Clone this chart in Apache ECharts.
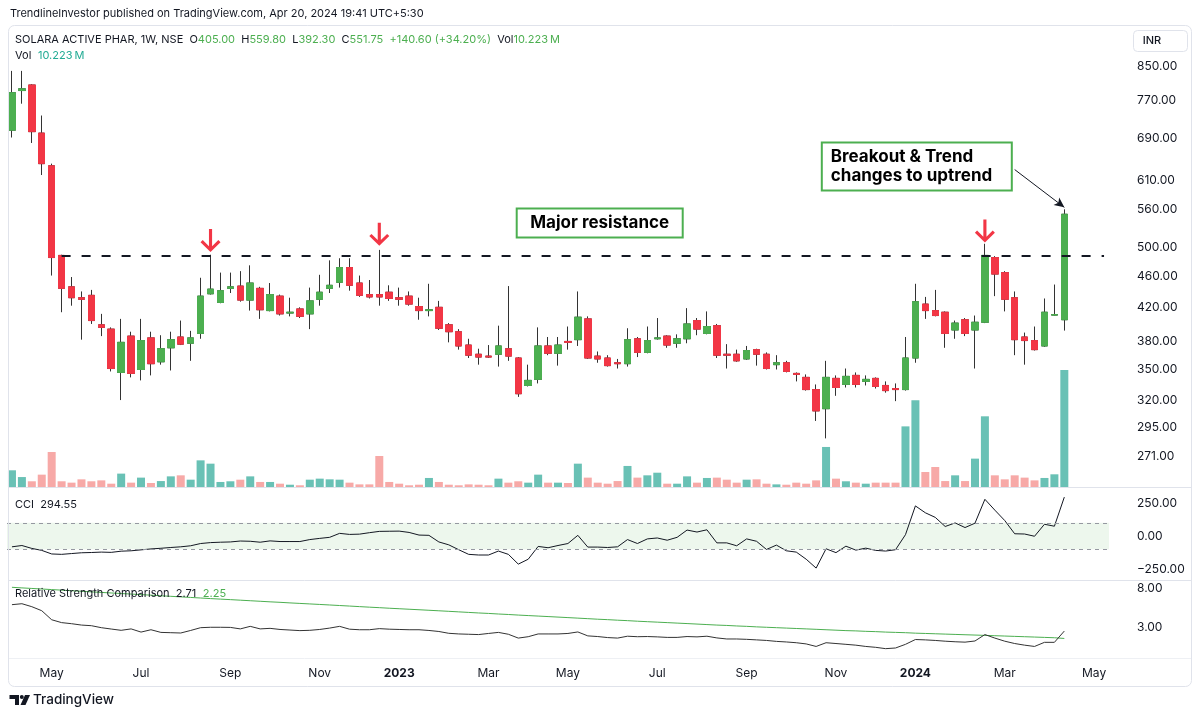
<!DOCTYPE html>
<html><head><meta charset="utf-8">
<script src="https://cdn.jsdelivr.net/npm/echarts@6/dist/echarts.min.js"></script>
<style>html,body{margin:0;padding:0;background:#fff}#c{width:1200px;height:716px}</style>
</head><body><div id="c"></div>
<script>
// ---------- data (weekly, SOLARA ACTIVE PHAR, NSE) ----------
const START_WEEK = '2022-04-04';
const FUTURE_SLOTS = 4;
const open = [706,793,806,700,636,489,446,432,435,399,394,347,386,350,384,358,373,385,378,389,437,426,444,447,429,444,416,434,413,418,412,430,444,452,472,451,436,436,439,432,434,421,416,420,399,391,376,366,364,366,372,362,334,340,375,367,380,382,406,364,362,357,356,383,368,383,386,378,383,404,389,398,366,366,361,371,366,355,357,346,342,330,312,341,335,344,338,341,334,331,330,362,424,416,414,393,405,393,402,486,465,432,385,381,375,410.5,405];
const high = [840,840,808,737,640,490,459,440,442,412,396,406,391,406,391,387,391,404,392,458,490,465,465,467,475,446,451,436,432,420,445,462,482,485,485,461,455,497,448,445,440,432,450,428,401,394,383,372,376,398,447,363,355,396,385,385,397,440,409,369,365,361,395,385,397,407,387,388,419,407,415,400,377,371,375,372,368,365,359,347,345,335,359,344,351,347,344,342,338,336,385,450,433,442,415,404,407,410,506,488,467,440,390,397,431,449,559.8];
const low = [691,763,680,619,461,414,422,382,400,386,348,320,342,339,344,355,349,376,359,383,436,425,438,427,416,406,415,410,409,407,394,422,438,445,441,433,431,422,428,422,422,405,409,393,379,371,362,355,362,353,359,323,333,336,365,354,371,375,361,357,353,351,353,363,367,382,373,373,378,387,388,362,351,358,360,354,350,350,347,338,329,301,286,324,332,332,334,331,327,319,329,357,406,409,373,383,386,351,401,434,415,365,355,370,374,410,392.3];
const close = [788,797,703,640,486,444,432,430,404,396,351,379,346,381,356,372,382,377,384,434,443,441,446,429,451,417,436,412,414,409,428,439,448,472,448,435,433,433,431,430,424,416,417,395,391,375,365,363,363,375,364,326,339,375,367,376,379,408,362,361,354,356,382,368,381,384,376,383,400,394,397,365,365,359,370,366,351,357,348,345,330,310,342,332,343,335,340,333,329,330,362,427,416,410,389,401,389,402,489,463,430,382,381,371,414,411.15,551.75];
const volumeM = [1.46,0.87,0.50,1.08,3.06,0.50,0.38,0.67,0.50,0.58,0.29,1.17,0.38,0.82,0.35,0.52,0.93,1.02,0.64,2.33,2.04,0.44,0.50,0.64,0.93,0.44,0.44,0.29,0.20,0.15,0.64,0.73,0.67,0.64,0.38,0.23,0.23,2.71,0.44,0.29,0.15,0.20,0.79,0.44,0.20,0.15,0.23,0.20,0.15,0.73,0.38,0.50,0.38,1.08,0.38,0.38,0.35,2.04,0.82,0.38,0.29,0.52,1.84,0.82,1.02,1.25,0.29,0.29,0.93,0.38,0.79,0.82,0.64,0.38,0.64,0.67,0.29,0.23,0.20,0.38,0.29,0.58,3.50,0.73,0.50,0.38,0.29,0.38,0.38,0.38,5.30,7.58,1.31,1.75,0.52,1.02,0.52,2.48,6.18,1.02,0.67,1.02,0.82,0.58,0.79,1.11,10.223];
const cci = [-82,-72,-94,-109,-136,-139,-133,-127,-125,-122,-124,-115,-112,-105,-98,-93,-87,-82,-74,-57,-50,-47,-45,-38,-40,-47,-37,-42,-42,-42,-27,-18,-10,20,12,14,25,35,36,37,27,7,5,-45,-67,-104,-139,-144,-144,-114,-139,-213,-176,-79,-89,-72,-57,5,-84,-84,-87,-82,-27,-57,-22,-15,-32,-10,45,30,47,-52,-52,-74,-22,-40,-102,-69,-112,-122,-176,-243,-97,-126,-77,-107,-92,-109,-114,-104,10,228,176,141,72,99,64,97,278,196,117,17,15,-2,89,74,294.55];
const rsc = [5.26,5.39,5.0,4.52,3.60,3.35,3.26,3.15,3.10,2.95,2.85,2.76,2.86,2.64,2.80,2.62,2.60,2.58,2.75,2.95,2.98,2.98,2.97,2.86,3.05,2.86,2.90,2.82,2.78,2.74,2.76,2.82,2.92,3.05,2.84,2.80,2.80,2.88,2.84,2.82,2.80,2.80,2.75,2.68,2.56,2.52,2.50,2.48,2.55,2.62,2.50,2.27,2.35,2.52,2.52,2.52,2.55,2.65,2.40,2.36,2.30,2.27,2.38,2.35,2.36,2.34,2.31,2.31,2.36,2.34,2.38,2.28,2.22,2.22,2.20,2.17,2.14,2.09,2.06,2.02,1.96,1.84,2.02,1.98,1.94,1.90,1.84,1.80,1.74,1.77,1.94,2.19,2.17,2.14,2.10,2.07,2.05,2.11,2.48,2.27,2.10,1.98,1.90,1.84,2.04,2.04,2.71];
const rscAvg = [8.14,8.02,7.91,7.80,7.69,7.58,7.47,7.37,7.26,7.16,7.06,6.96,6.87,6.77,6.68,6.58,6.49,6.40,6.31,6.22,6.13,6.05,5.97,5.89,5.81,5.73,5.65,5.58,5.50,5.43,5.36,5.29,5.22,5.15,5.08,5.01,4.94,4.88,4.81,4.75,4.69,4.63,4.57,4.51,4.45,4.39,4.33,4.27,4.22,4.16,4.11,4.05,4.00,3.95,3.90,3.85,3.80,3.75,3.70,3.65,3.61,3.56,3.52,3.47,3.43,3.39,3.35,3.31,3.27,3.23,3.19,3.15,3.12,3.08,3.05,3.01,2.98,2.95,2.92,2.89,2.86,2.83,2.80,2.77,2.74,2.72,2.69,2.67,2.64,2.62,2.60,2.57,2.55,2.53,2.51,2.49,2.47,2.45,2.43,2.41,2.39,2.37,2.35,2.33,2.31,2.29,2.25];
const priceTicks = [850,770,690,610,560,500,460,420,380,350,320,295,271];
const cciTicks = [250,0,-250];
const rscTicks = [8,3];
const resistance = 488;
const arrowMarks = [[20,494],[37,503],[98,508]]; // [bar index, price]

// ---------- helpers ----------
const FONT = 'Inter, "Noto Sans", sans-serif';
const TXT = '#131722';
const UP = '#4caf50', DOWN = '#f23645';
const ln = Math.log;
const cats = [];
{
  const t0 = Date.parse(START_WEEK + 'T00:00:00Z');
  for (let i = 0; i < close.length + FUTURE_SLOTS; i++) cats.push(new Date(t0 + i * 7 * 86400000).toISOString().slice(0, 10));
}
const MON = ['Jan','Feb','Mar','Apr','May','Jun','Jul','Aug','Sep','Oct','Nov','Dec'];
function timeLabel(i) {
  if (i === 0) return null;
  const m = +cats[i].slice(5, 7) - 1, pm = +cats[i - 1].slice(5, 7) - 1;
  if (m === pm || m % 2 !== 0) return null;
  return m === 0 ? '{b|' + cats[i].slice(0, 4) + '}' : MON[m];
}
const wick = open.map((o, i) => [ln(o), ln(close[i]), ln(low[i]), ln(high[i])]);
const body = open.map((o, i) => [ln(o), ln(close[i]), ln(Math.min(o, close[i])), ln(Math.max(o, close[i]))]);
const volData = volumeM.map((v, i) => ({ value: v, itemStyle: { color: close[i] >= open[i] ? 'rgb(105,193,181)' : 'rgb(247,169,167)' } }));

const arrowPath = 'path://M8.5,0 L11.5,0 L11.5,17 L17.5,11 L19.6,13.1 L10,22.7 L0.4,13.1 L2.5,11 L8.5,17 Z';

const chart = echarts.init(document.getElementById('c'), null, { renderer: 'canvas' });
const xAx = (gi) => ({
  type: 'category', gridIndex: gi, data: cats, boundaryGap: true,
  axisLine: { show: false }, axisTick: { show: false }, splitLine: { show: false },
  axisLabel: gi === 2 ? {
    show: true, interval: (idx) => timeLabel(idx) !== null,
    formatter: (v, idx) => timeLabel(idx) || '', margin: 9,
    color: TXT, fontSize: 12, fontFamily: FONT,
    rich: { b: { fontWeight: 'bold', fontSize: 12, color: TXT, fontFamily: FONT } }
  } : { show: false }
});
const yLab = (vals, fmt) => ({
  show: true, customValues: vals, formatter: fmt, margin: 28,
  color: TXT, fontSize: 12, fontFamily: FONT, align: 'left'
});
const boxLabel = {
  show: true, position: 'inside', backgroundColor: '#fff', borderColor: UP, borderWidth: 2,
  color: '#000', fontSize: 17, fontWeight: 'bold', fontFamily: FONT, lineHeight: 19
};

chart.setOption({
  animation: false,
  backgroundColor: '#ffffff',
  grid: [
    { left: 7, right: 91, top: 26, height: 461 },
    { left: 7, right: 91, top: 488, height: 92 },
    { left: 7, right: 91, top: 581, height: 77 }
  ],
  xAxis: [xAx(0), xAx(1), xAx(2)],
  yAxis: [
    { type: 'value', gridIndex: 0, position: 'right', min: ln(248), max: ln(958.2),
      axisLine: { show: false }, axisTick: { show: false }, splitLine: { show: false },
      axisLabel: yLab(priceTicks.map(ln), v => Math.round(Math.exp(v)).toFixed(2)) },
    { type: 'value', gridIndex: 0, min: 0, max: 40.3, show: false, splitLine: { show: false } },
    { type: 'value', gridIndex: 1, position: 'right', min: -333.3, max: 363.6,
      axisLine: { show: false }, axisTick: { show: false }, splitLine: { show: false },
      axisLabel: yLab(cciTicks, v => v < 0 ? '\u2212' + Math.abs(v).toFixed(2) : v.toFixed(2)) },
    { type: 'value', gridIndex: 2, position: 'right', min: ln(1.376), max: ln(9.54),
      axisLine: { show: false }, axisTick: { show: false }, splitLine: { show: false },
      axisLabel: yLab(rscTicks.map(ln), v => Math.exp(v).toFixed(2)) }
  ],
  series: [
    { type: 'bar', xAxisIndex: 0, yAxisIndex: 1, data: volData, barWidth: 8, silent: true, z: 1 },
    { type: 'candlestick', xAxisIndex: 0, yAxisIndex: 0, data: wick, barWidth: 7, silent: true, z: 2,
      itemStyle: { color: '#333', color0: '#333', borderColor: '#333', borderColor0: '#333', borderWidth: 1 },
      markLine: {
        silent: true, symbol: 'none', label: { show: false },
        lineStyle: { color: TXT, width: 2, type: [9, 11] },
        data: [[{ coord: [cats[5], ln(resistance)] }, { coord: [cats[cats.length - 1], ln(resistance)] }]]
      }
    },
    { type: 'candlestick', xAxisIndex: 0, yAxisIndex: 0, data: body, barWidth: 7, silent: true, z: 3,
      itemStyle: { color: UP, color0: DOWN, borderColor: UP, borderColor0: DOWN, borderWidth: 1 },
      markPoint: {
        silent: true,
        data: [
          ...arrowMarks.map(a => ({ coord: [cats[a[0]], ln(a[1])], symbol: arrowPath, symbolSize: [20, 23],
            symbolOffset: [0, '-50%'], itemStyle: { color: DOWN }, label: { show: false } })),
          { coord: [cats[59], ln(537.7)], symbol: 'circle', symbolSize: 1, itemStyle: { color: 'rgba(0,0,0,0)' },
            label: Object.assign({}, boxLabel, { formatter: 'Major resistance', offset: [2, 0],
              width: 144, height: 19, padding: [4, 10], align: 'center', verticalAlign: 'middle' }) },
          { coord: [cats[91], ln(634.8)], symbol: 'circle', symbolSize: 1, itemStyle: { color: 'rgba(0,0,0,0)' },
            label: Object.assign({}, boxLabel, { formatter: '{t|Breakout & Trend}\n{t|changes to uptrend}', offset: [1.4, 0],
              padding: [4, 8],
              rich: { t: { width: 172, align: 'left', color: '#000', fontSize: 17, fontWeight: 'bold', fontFamily: FONT, lineHeight: 19 } } }) }
        ]
      },
      markLine: {
        silent: true, symbol: ['none', 'arrow'], symbolSize: [7, 10], label: { show: false },
        lineStyle: { color: TXT, width: 1, type: 'solid' },
        data: [[{ coord: [cats[101], ln(629)] }, { coord: [cats[106], ln(563)] }]]
      }
    },
    { type: 'line', xAxisIndex: 1, yAxisIndex: 2, data: cci, symbol: 'none', silent: true, z: 3,
      lineStyle: { color: TXT, width: 1 },
      markArea: { silent: true, itemStyle: { color: 'rgba(76,175,80,0.10)' }, data: [[{ yAxis: -100 }, { yAxis: 100 }]] },
      markLine: { silent: true, symbol: 'none', label: { show: false },
        lineStyle: { color: '#9598a1', width: 1, type: [4, 4] }, data: [{ yAxis: 100 }, { yAxis: -100 }] }
    },
    { type: 'line', xAxisIndex: 2, yAxisIndex: 3, data: rscAvg.map(ln), symbol: 'none', silent: true, z: 2,
      lineStyle: { color: UP, width: 1 } },
    { type: 'line', xAxisIndex: 2, yAxisIndex: 3, data: rsc.map(ln), symbol: 'none', silent: true, z: 3,
      lineStyle: { color: '#333', width: 1 } }
  ],
  graphic: [
    { type: 'rect', silent: true, z: 100, shape: { x: 8.5, y: 25.5, width: 1183, height: 661, r: 6 }, style: { fill: 'none', stroke: '#e0e3eb', lineWidth: 1 } },
    { type: 'line', silent: true, z: 100, shape: { x1: 9, y1: 487.5, x2: 1191, y2: 487.5 }, style: { stroke: '#e0e3eb', lineWidth: 1 } },
    { type: 'line', silent: true, z: 100, shape: { x1: 9, y1: 580.5, x2: 1191, y2: 580.5 }, style: { stroke: '#e0e3eb', lineWidth: 1 } },
    { type: 'line', silent: true, z: 100, shape: { x1: 9, y1: 658.5, x2: 1191, y2: 658.5 }, style: { stroke: '#eef0f4', lineWidth: 1 } },
    { type: 'text', silent: true, z: 100, x: 10, y: 14, style: { text: 'TrendlineInvestor published on TradingView.com, Apr 20, 2024 19:41 UTC+5:30', font: '11px ' + FONT, fill: TXT, verticalAlign: 'middle' } },
    { type: 'text', silent: true, z: 100, x: 15, y: 40, style: {
      text: '{d|SOLARA ACTIVE PHAR, 1W, NSE}  {d|O}{g|405.00}  {d|H}{g|559.80}  {d|L}{g|392.30}  {d|C}{g|551.75}  {g|+140.60 (+34.20%)}  {d|Vol}{g|10.223\u2009M}',
      verticalAlign: 'middle', font: '11px ' + FONT,
      rich: { d: { fill: TXT, font: '11px ' + FONT }, g: { fill: '#4caf50', font: '11px ' + FONT } } } },
    { type: 'text', silent: true, z: 100, x: 15, y: 56, style: {
      text: '{d|Vol}  {t|10.223\u2009M}', verticalAlign: 'middle',
      rich: { d: { fill: TXT, font: '11px ' + FONT }, t: { fill: '#22ab94', font: '11px ' + FONT } } } },
    { type: 'rect', silent: true, z: 100, shape: { x: 1133.5, y: 30.5, width: 54, height: 21, r: 4 }, style: { fill: '#fff', stroke: '#e0e3eb', lineWidth: 1 } },
    { type: 'text', silent: true, z: 101, x: 1152, y: 41, style: { text: 'INR', font: '500 11px ' + FONT, fill: TXT, align: 'center', verticalAlign: 'middle' } },
    { type: 'text', silent: true, z: 100, x: 15, y: 505, style: { text: 'CCI  294.55', font: '11px ' + FONT, fill: TXT, verticalAlign: 'middle' } },
    { type: 'text', silent: true, z: 100, x: 15, y: 594, style: {
      text: '{d|Relative Strength Comparison  2.71}  {g|2.25}', verticalAlign: 'middle',
      rich: { d: { fill: TXT, font: '11px ' + FONT }, g: { fill: '#4caf50', font: '11px ' + FONT } } } },
    { type: 'polygon', silent: true, z: 100, shape: { points: [[9.5,695],[19,695],[19,705],[15,705],[15,699],[9.5,699]] }, style: { fill: TXT } },
    { type: 'circle', silent: true, z: 100, shape: { cx: 21.8, cy: 697, r: 2 }, style: { fill: TXT } },
    { type: 'polygon', silent: true, z: 100, shape: { points: [[25,695],[30,695],[25.5,705],[20.5,705]] }, style: { fill: TXT } },
    { type: 'text', silent: true, z: 100, x: 33, y: 700, style: { text: 'TradingView', font: '500 13.5px ' + FONT, fill: TXT, verticalAlign: 'middle' } }
  ]
});
</script></body></html>
